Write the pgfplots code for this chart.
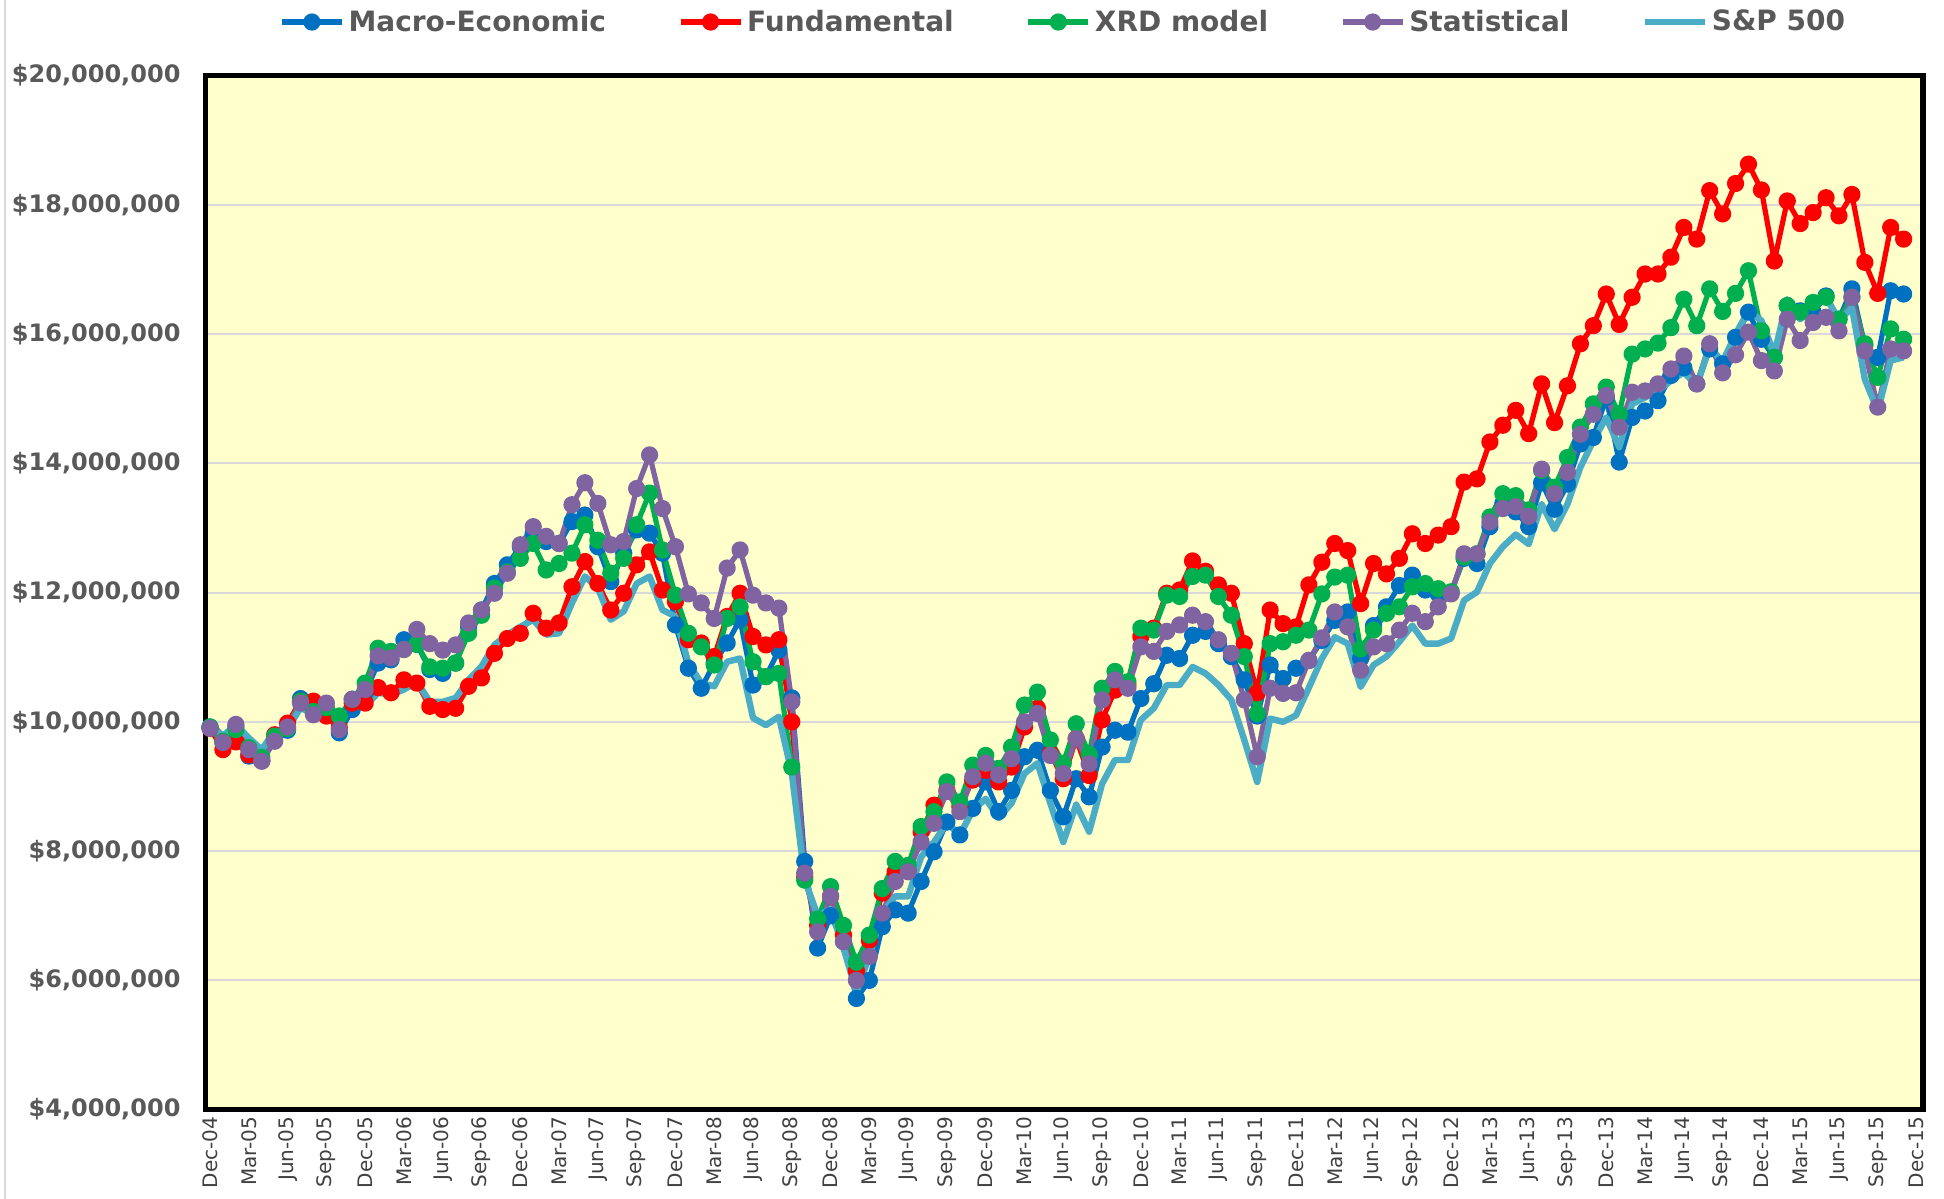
\documentclass[border=0pt]{standalone}
\usepackage{pgfplots}
\usepackage{pgfplotstable}
\pgfplotsset{compat=1.18}
\usepackage{fontspec}
\setmainfont{DejaVu Sans}
\definecolor{cme}{HTML}{0070C0}
\definecolor{cfu}{HTML}{FF0000}
\definecolor{cxrd}{HTML}{00B050}
\definecolor{cst}{HTML}{8064A2}
\definecolor{csp}{HTML}{4BACC6}
\definecolor{bgy}{HTML}{FFFFCC}
\definecolor{gridc}{HTML}{D9D9D9}
\definecolor{lab}{HTML}{595959}
\definecolor{xlab}{HTML}{404040}
\pgfplotstableread{
i me fu xrd st sp
0 9.92 9.90 9.92 9.90 9.98
1 9.68 9.57 9.70 9.68 9.78
2 9.93 9.69 9.88 9.96 9.96
3 9.47 9.49 9.60 9.57 9.75
4 9.40 9.40 9.45 9.39 9.57
5 9.72 9.80 9.78 9.70 9.86
6 9.87 9.98 9.90 9.92 9.89
7 10.36 10.32 10.32 10.29 10.22
8 10.14 10.32 10.16 10.11 10.11
9 10.15 10.09 10.22 10.29 10.17
10 9.83 9.91 10.09 9.88 9.96
11 10.19 10.29 10.35 10.35 10.29
12 10.45 10.29 10.60 10.50 10.24
13 10.91 10.53 11.14 11.02 10.45
14 10.96 10.45 11.09 10.99 10.42
15 11.27 10.65 11.12 11.12 10.50
16 11.20 10.60 11.20 11.43 10.62
17 10.81 10.24 10.85 11.21 10.31
18 10.75 10.19 10.83 11.11 10.31
19 10.91 10.21 10.91 11.19 10.37
20 11.47 10.55 11.37 11.53 10.65
21 11.73 10.68 11.65 11.73 10.86
22 12.14 11.06 12.07 11.99 11.19
23 12.43 11.29 12.32 12.30 11.35
24 12.71 11.37 12.53 12.74 11.47
25 12.92 11.68 12.76 13.02 11.58
26 12.79 11.45 12.35 12.87 11.35
27 12.76 11.53 12.45 12.76 11.37
28 13.10 12.09 12.61 13.36 11.84
29 13.20 12.48 13.05 13.70 12.25
30 12.71 12.14 12.81 13.38 12.07
31 12.17 11.73 12.30 12.74 11.58
32 12.61 11.99 12.53 12.79 11.71
33 12.97 12.43 13.05 13.61 12.14
34 12.92 12.63 13.54 14.13 12.25
35 12.61 12.04 12.66 13.30 11.73
36 11.50 11.86 11.96 12.71 11.63
37 10.83 11.27 11.37 11.98 10.91
38 10.52 11.22 11.16 11.84 10.60
39 10.91 11.01 10.88 11.60 10.55
40 11.22 11.63 11.60 12.38 10.93
41 11.58 11.99 11.78 12.66 10.98
42 10.57 11.32 10.93 11.96 10.06
43 10.70 11.19 10.70 11.84 9.95
44 11.11 11.27 10.75 11.76 10.08
45 10.37 10.00 9.30 10.31 9.21
46 7.84 7.60 7.55 7.66 7.56
47 6.50 6.85 6.95 6.75 7.00
48 7.00 7.30 7.45 7.30 7.10
49 6.60 6.70 6.85 6.60 6.50
50 5.72 6.15 6.28 6.00 5.82
51 6.00 6.62 6.70 6.37 6.38
52 6.83 7.35 7.42 7.04 7.04
53 7.09 7.68 7.84 7.53 7.30
54 7.04 7.70 7.78 7.68 7.30
55 7.53 8.30 8.38 8.14 7.91
56 7.99 8.71 8.61 8.43 8.14
57 8.45 8.94 9.07 8.92 8.43
58 8.25 8.69 8.76 8.61 8.25
59 8.66 9.10 9.33 9.15 8.63
60 9.07 9.25 9.48 9.36 8.81
61 8.61 9.07 9.28 9.18 8.51
62 8.94 9.30 9.61 9.43 8.74
63 9.46 9.92 10.26 10.00 9.20
64 9.56 10.21 10.46 10.13 9.36
65 8.94 9.51 9.72 9.48 8.74
66 8.53 9.12 9.36 9.20 8.14
67 9.12 9.74 9.97 9.74 8.72
68 8.84 9.17 9.50 9.35 8.30
69 9.61 10.03 10.52 10.34 9.04
70 9.87 10.49 10.78 10.65 9.41
71 9.84 10.57 10.62 10.52 9.41
72 10.36 11.32 11.45 11.16 10.03
73 10.59 11.45 11.42 11.09 10.21
74 11.03 11.99 11.96 11.40 10.57
75 10.98 12.04 11.94 11.50 10.57
76 11.34 12.49 12.25 11.65 10.85
77 11.40 12.33 12.27 11.55 10.75
78 11.21 12.12 11.94 11.27 10.57
79 11.01 11.99 11.65 11.06 10.34
80 10.65 11.21 11.01 10.34 9.72
81 10.09 10.45 10.13 9.46 9.07
82 10.88 11.73 11.21 10.52 10.05
83 10.67 11.52 11.24 10.44 10.00
84 10.83 11.47 11.34 10.45 10.10
85 10.95 12.12 11.42 10.95 10.53
86 11.26 12.47 11.98 11.30 10.98
87 11.57 12.76 12.24 11.70 11.31
88 11.70 12.65 12.27 11.47 11.21
89 10.98 11.83 11.13 10.80 10.54
90 11.49 12.45 11.42 11.16 10.88
91 11.78 12.29 11.68 11.21 11.01
92 12.11 12.53 11.78 11.42 11.24
93 12.27 12.91 12.09 11.68 11.49
94 12.04 12.76 12.14 11.55 11.21
95 11.98 12.89 12.06 11.78 11.21
96 12.01 13.02 12.01 11.98 11.29
97 12.53 13.71 12.55 12.60 11.88
98 12.45 13.76 12.60 12.60 12.01
99 13.02 14.33 13.17 13.09 12.45
100 13.38 14.59 13.53 13.30 12.71
101 13.25 14.82 13.50 13.33 12.90
102 13.02 14.46 13.28 13.18 12.75
103 13.70 15.23 13.89 13.91 13.37
104 13.29 14.63 13.63 13.53 12.98
105 13.68 15.20 14.09 13.86 13.37
106 14.30 15.85 14.56 14.45 13.94
107 14.40 16.13 14.92 14.76 14.35
108 15.02 16.62 15.18 15.05 14.71
109 14.02 16.15 14.76 14.56 14.25
110 14.71 16.57 15.69 15.10 14.92
111 14.81 16.93 15.77 15.12 15.02
112 14.97 16.93 15.86 15.23 15.12
113 15.36 17.19 16.10 15.46 15.28
114 15.48 17.65 16.54 15.66 15.41
115 15.23 17.47 16.13 15.23 15.20
116 15.77 18.22 16.70 15.85 15.80
117 15.54 17.86 16.35 15.40 15.57
118 15.95 18.33 16.63 15.68 16.00
119 16.34 18.63 16.98 16.03 16.36
120 15.92 18.23 16.05 15.59 16.21
121 15.64 17.13 15.64 15.43 15.69
122 16.44 18.06 16.44 16.23 16.54
123 16.36 17.71 16.34 15.90 16.23
124 16.34 17.88 16.49 16.18 16.41
125 16.59 18.11 16.57 16.26 16.57
126 16.23 17.83 16.23 16.05 16.21
127 16.70 18.16 16.57 16.57 16.41
128 15.82 17.11 15.85 15.74 15.30
129 15.64 16.63 15.33 14.87 14.81
130 16.67 17.65 16.08 15.77 15.59
131 16.62 17.47 15.92 15.74 15.64
}\data
\begin{document}
\begin{tikzpicture}
\useasboundingbox (-102.75pt,-44.7pt) rectangle (869.25pt,554.8pt);
\draw[gridc, line width=0.8pt] (-100.25pt,-44.7pt) -- (-100.25pt,554.8pt);
\begin{axis}[
  at={(0,0)}, anchor=south west,
  scale only axis, width=858.75pt, height=517pt,
  xmin=-0.35, xmax=132.5, ymin=4, ymax=20,
  axis background/.style={fill=bgy},
  axis line style={line width=2.6pt, black},
  ytick={4,6,...,20},
  yticklabels={{\$4,000,000},{\$6,000,000},{\$8,000,000},{\$10,000,000},{\$12,000,000},{\$14,000,000},{\$16,000,000},{\$18,000,000},{\$20,000,000}},
  xtick={0,3,...,132},
  xticklabels={Dec-04,Mar-05,Jun-05,Sep-05,Dec-05,Mar-06,Jun-06,Sep-06,Dec-06,Mar-07,Jun-07,Sep-07,Dec-07,Mar-08,Jun-08,Sep-08,Dec-08,Mar-09,Jun-09,Sep-09,Dec-09,Mar-10,Jun-10,Sep-10,Dec-10,Mar-11,Jun-11,Sep-11,Dec-11,Mar-12,Jun-12,Sep-12,Dec-12,Mar-13,Jun-13,Sep-13,Dec-13,Mar-14,Jun-14,Sep-14,Dec-14,Mar-15,Jun-15,Sep-15,Dec-15},
  major tick length=0pt,
  ymajorgrids, grid style={line width=1pt, color=gridc},
  yticklabel style={font=\bfseries\fontsize{12}{14}\selectfont, text=lab, anchor=east, xshift=-9pt},
  xticklabel style={font=\fontsize{10}{12}\selectfont, text=xlab, rotate=90, anchor=east, yshift=0pt},
  legend columns=5,
  legend style={at={(0.5,1.0518)}, anchor=center, draw=none, fill=none,
    font=\bfseries\fontsize{14}{16}\selectfont, text=lab,
    /tikz/every even column/.append style={column sep=34pt}},
  legend image code/.code={\draw[mark repeat=2, mark phase=2, #1] plot coordinates {(0pt,0pt) (15pt,0pt) (30pt,0pt)};},
  every axis plot/.append style={line join=round},
]
\addplot[color=cme, line width=2.6pt, mark=*, mark size=3pt, mark options={solid}] table[x=i, y=me] {\data};
\addplot[color=cfu, line width=2.6pt, mark=*, mark size=3pt, mark options={solid}] table[x=i, y=fu] {\data};
\addplot[color=cxrd, line width=2.6pt, mark=*, mark size=3pt, mark options={solid}] table[x=i, y=xrd] {\data};
\addplot[color=cst, line width=2.6pt, mark=*, mark size=3pt, mark options={solid}] table[x=i, y=st] {\data};
\addplot[color=csp, line width=3.2pt, no markers] table[x=i, y=sp] {\data};
\legend{Macro-Economic, Fundamental, XRD model, Statistical, S\&P 500}
\end{axis}
\end{tikzpicture}
\end{document}
